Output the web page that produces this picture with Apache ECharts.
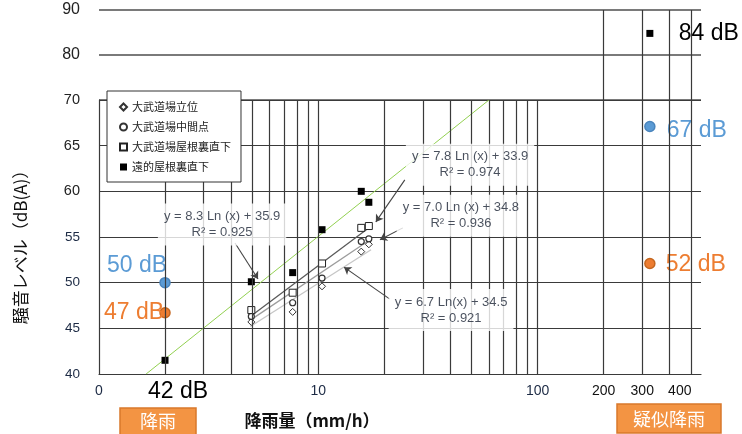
<!DOCTYPE html>
<html><head><meta charset="utf-8">
<script src="https://cdn.jsdelivr.net/npm/echarts@6/dist/echarts.min.js"></script>
<style>html,body{margin:0;padding:0;background:#fff}#c{width:742px;height:434px}</style>
</head><body><div id="c"></div>
<script>
// ---------- data ----------
const seriesNames = ['大武道場立位', '大武道場中間点', '大武道場屋根裏直下', '遠的屋根裏直下'];
const rainfall = [4.95, 7.64, 10.4, 15.7, 17.0];
const standingLevel = [45.7, 46.8, 49.6, 53.4, 54.2];
const midLevel = [46.3, 47.8, 50.5, 54.5, 54.8];
const atticLevel = [47.0, 48.9, 52.1, 56.0, 56.2];
const farRainfall = [2, 4.95, 7.64, 10.4, 15.7, 17.0];
const farAtticLevel = [41.5, 50.1, 51.1, 55.8, 60.0, 58.8];
const farLabelText = ['42 dB', '', '', '', '', ''];

const blueRain = [2, 325];
const blueLevel = [50.0, 67.1];
const blueLabels = ['50 dB', '67 dB'];
const orangeRain = [2, 325];
const orangeLevel = [46.7, 52.1];
const orangeLabels = ['47 dB', '52 dB'];
const pseudoRain = [325];
const pseudoLevel = [84.8];
const pseudoLabels = ['84 dB'];

// trend lines (end points)
const trendFar = [[1.64, 40], [60, 70]];
const trendAttic = [[4.9, 46.3], [17.2, 56.1]];
const trendMid = [[4.9, 45.9], [17.2, 54.7]];
const trendStanding = [[4.9, 45.2], [17.4, 53.6]];

const eqTexts = ['y = 8.3 Ln (x) + 35.9\nR² = 0.925', 'y = 7.8 Ln (x) + 33.9\nR² = 0.974', 'y = 7.0 Ln (x) + 34.8\nR² = 0.936', 'y = 6.7 Ln(x) + 34.5\nR² = 0.921'];
const eqAnchors = [[3.64, 56.37], [49.2, 62.9], [44.7, 57.33], [40.3, 47.0]];
const eqArrows = [[[4.17, 54.35], [5.31, 50.4]], [[24.8, 61.25], [18.3, 56.65]], [[24.3, 56.0], [19.1, 54.7]], [[21.2, 48.2], [13.1, 51.7]]];

const xTickValues = [1, 10, 100, 200, 300, 445];
const xTickLabels = ['0', '10', '100', '200', '300', '400'];
const lowerGridX = [2, 3, 4, 5, 6, 7, 8, 9, 10, 20, 30, 40, 50, 60, 70, 80, 90, 100, 200, 300, 400, 500];
const upperGridX = [200, 300, 400, 500];

// ---------- layout / style ----------
const blueOffsets = [[-28, -17], [47, 4]];
const orangeOffsets = [[-31, 0], [46, 1]];
const pseudoOffsets = [[59, 0]];
const farOffsets = [[13, 31]];
const LAT = "'Liberation Sans', Arial, sans-serif";
const JP = "'Noto Sans CJK JP', sans-serif";
const gridColor = '#3a3a3a';

function tickIdx(v) {
  let best = 0, bd = Infinity;
  xTickValues.forEach((t, i) => { const d = Math.abs(Math.log10(v) - Math.log10(t)); if (d < bd) { bd = d; best = i; } });
  return best;
}

const chart = echarts.init(document.getElementById('c'));
const pairs = (xs, ys) => xs.map((x, i) => [x, ys[i]]);
const bigLabel = (text, off, color) => ({ show: true, position: 'inside', offset: off, formatter: text, fontSize: 23, color: color, opacity: 1 });

const option = {
  animation: false,
  textStyle: { fontFamily: LAT },
  grid: [
    { left: 99, top: 10, width: 602, height: 90 },
    { left: 99, top: 100, width: 602, height: 274 }
  ],
  xAxis: [
    { gridIndex: 0, type: 'log', logBase: 10, min: 1, max: 556, axisLine: { show: false }, axisTick: { show: false }, axisLabel: { show: false }, splitLine: { show: false } },
    { gridIndex: 1, type: 'log', logBase: 10, min: 1, max: 556,
      axisLine: { show: true, lineStyle: { color: gridColor, width: 1.2 } }, axisTick: { show: false }, splitLine: { show: false },
      axisLabel: { customValues: xTickValues, margin: 10, fontSize: 14, fontFamily: LAT,
        formatter: v => xTickLabels[tickIdx(v)],
        color: v => (tickIdx(v) < 3 ? '#1c2a44' : '#111') } }
  ],
  yAxis: [
    { gridIndex: 0, type: 'value', min: 70, max: 90, interval: 10, axisLine: { show: false }, axisTick: { show: false },
      axisLabel: { formatter: v => (v === 70 ? '' : String(v)), fontSize: 16, color: '#222', margin: 19 },
      splitLine: { lineStyle: { color: '#7a7a7a', width: 1.8 } } },
    { gridIndex: 1, type: 'value', min: 40, max: 70, interval: 5,
      axisLine: { show: true, lineStyle: { color: gridColor, width: 1.2 } }, axisTick: { show: false },
      axisLabel: { margin: 19, formatter: v => (v >= 60 ? '{a|' + v + '}' : '{b|' + v + '}'),
        rich: { a: { fontSize: 14.5, color: '#222' }, b: { fontSize: 13.5, color: '#1c2a44' } } },
      splitLine: { lineStyle: { color: gridColor, width: 1.2 } } }
  ],
  legend: {
    orient: 'vertical', left: 107, top: 91, data: seriesNames, selectedMode: false,
    backgroundColor: '#fff', borderColor: '#333', borderWidth: 1, padding: [10, 10, 9, 12],
    itemGap: 8, itemWidth: 7, itemHeight: 7, z: 10,
    textStyle: { fontSize: 11, color: '#222', fontFamily: JP, lineHeight: 12 }
  },
  series: [
    { type: 'line', name: 'gridLower', xAxisIndex: 1, yAxisIndex: 1, data: [], z: 1, silent: true,
      markLine: { silent: true, symbol: ['none', 'none'], label: { show: false }, animation: false,
        lineStyle: { color: gridColor, width: 1.2, type: 'solid' }, emphasis: { disabled: true },
        data: lowerGridX.map(v => ({ xAxis: v })) } },
    { type: 'line', name: 'gridUpper', xAxisIndex: 0, yAxisIndex: 0, data: [], z: 1, silent: true,
      markLine: { silent: true, symbol: ['none', 'none'], label: { show: false }, animation: false,
        lineStyle: { color: gridColor, width: 1.2, type: 'solid' }, emphasis: { disabled: true },
        data: upperGridX.map(v => ({ xAxis: v })) } },
    { type: 'line', name: 'tFar', xAxisIndex: 1, yAxisIndex: 1, data: trendFar, symbol: 'none', z: 2, lineStyle: { color: '#92d050', width: 1 } },
    { type: 'line', name: 'tAttic', xAxisIndex: 1, yAxisIndex: 1, data: trendAttic, symbol: 'none', z: 2, lineStyle: { color: '#5a5a5a', width: 1.3 } },
    { type: 'line', name: 'tMid', xAxisIndex: 1, yAxisIndex: 1, data: trendMid, symbol: 'none', z: 2, lineStyle: { color: '#9c9c9c', width: 1.3 } },
    { type: 'line', name: 'tStand', xAxisIndex: 1, yAxisIndex: 1, data: trendStanding, symbol: 'none', z: 2, lineStyle: { color: '#c6c6c6', width: 1.3 } },
    { type: 'scatter', name: seriesNames[0], xAxisIndex: 1, yAxisIndex: 1, z: 3, data: pairs(rainfall, standingLevel),
      symbol: 'diamond', symbolSize: 7, itemStyle: { color: '#fff', borderColor: '#333', borderWidth: 1, opacity: 1 } },
    { type: 'scatter', name: seriesNames[1], xAxisIndex: 1, yAxisIndex: 1, z: 3, data: pairs(rainfall, midLevel),
      symbol: 'circle', symbolSize: 6, itemStyle: { color: '#fff', borderColor: '#333', borderWidth: 1.2, opacity: 1 } },
    { type: 'scatter', name: seriesNames[2], xAxisIndex: 1, yAxisIndex: 1, z: 3, data: pairs(rainfall, atticLevel),
      symbol: 'rect', symbolSize: 7, itemStyle: { color: '#fff', borderColor: '#222', borderWidth: 1, opacity: 1 } },
    { type: 'scatter', name: seriesNames[3], xAxisIndex: 1, yAxisIndex: 1, z: 3,
      data: farRainfall.map((x, i) => farLabelText[i] ? { value: [x, farAtticLevel[i]], label: bigLabel(farLabelText[i], farOffsets[0], '#000') } : [x, farAtticLevel[i]]),
      symbol: 'rect', symbolSize: 7, itemStyle: { color: '#000', opacity: 1 } },
    { type: 'scatter', name: 'pseudo', xAxisIndex: 0, yAxisIndex: 0, z: 3,
      data: pseudoRain.map((x, i) => ({ value: [x, pseudoLevel[i]], label: bigLabel(pseudoLabels[i], pseudoOffsets[i], '#000') })),
      symbol: 'rect', symbolSize: 7, itemStyle: { color: '#000', opacity: 1 } },
    { type: 'scatter', name: 'blue', xAxisIndex: 1, yAxisIndex: 1, z: 4,
      data: blueRain.map((x, i) => ({ value: [x, blueLevel[i]], label: bigLabel(blueLabels[i], blueOffsets[i], '#5b9bd5') })),
      symbol: 'circle', symbolSize: 10, itemStyle: { color: '#5b9bd5', borderColor: '#4a85bd', borderWidth: 1.5, opacity: 1 } },
    { type: 'scatter', name: 'orange', xAxisIndex: 1, yAxisIndex: 1, z: 4,
      data: orangeRain.map((x, i) => ({ value: [x, orangeLevel[i]], label: bigLabel(orangeLabels[i], orangeOffsets[i], '#ed7d31') })),
      symbol: 'circle', symbolSize: 10, itemStyle: { color: '#ed7d31', borderColor: '#c4661f', borderWidth: 1.5, opacity: 1 } },
    { type: 'scatter', name: 'eq', xAxisIndex: 1, yAxisIndex: 1, z: 5, silent: true,
      data: eqAnchors.map((p, i) => ({ value: p, label: { formatter: eqTexts[i] } })),
      symbolSize: 1, itemStyle: { color: 'rgba(0,0,0,0)' },
      label: { show: true, position: 'inside', fontSize: 13, lineHeight: 16, color: '#1b2434', backgroundColor: '#fff', padding: [5, 6], align: 'center' },
      markLine: { silent: true, symbol: ['none', 'arrow'], symbolSize: 7, label: { show: false },
        lineStyle: { color: '#444', width: 1.1, type: 'solid' },
        data: eqArrows.map(a => [{ coord: a[0] }, { coord: a[1] }]) } }
  ],
  graphic: [
    { type: 'text', x: 21, y: 243, rotation: Math.PI / 2, z: 10,
      style: { text: '騒音レベル（dB(A)）', fontSize: 17, fontFamily: JP, fill: '#111', align: 'center', verticalAlign: 'middle' } },
    { type: 'text', x: 312, y: 421, z: 10,
      style: { text: '降雨量（mm/h）', fontSize: 17, fontWeight: 'bold', fontFamily: JP, fill: '#111', align: 'center', verticalAlign: 'middle' } },
    { type: 'rect', shape: { x: 120, y: 408, width: 76, height: 30 }, z: 10, style: { fill: '#f39443', stroke: '#d9782b', lineWidth: 1.5 } },
    { type: 'text', x: 158, y: 421, z: 11, style: { text: '降雨', fontSize: 18, fontFamily: JP, fill: '#fff', align: 'center', verticalAlign: 'middle' } },
    { type: 'rect', shape: { x: 617, y: 404, width: 104, height: 29 }, z: 10, style: { fill: '#f39443', stroke: '#d9782b', lineWidth: 1.5 } },
    { type: 'text', x: 669, y: 419, z: 11, style: { text: '疑似降雨', fontSize: 18, fontFamily: JP, fill: '#fff', align: 'center', verticalAlign: 'middle' } }
  ]
};
chart.setOption(option);
</script>
</body></html>
